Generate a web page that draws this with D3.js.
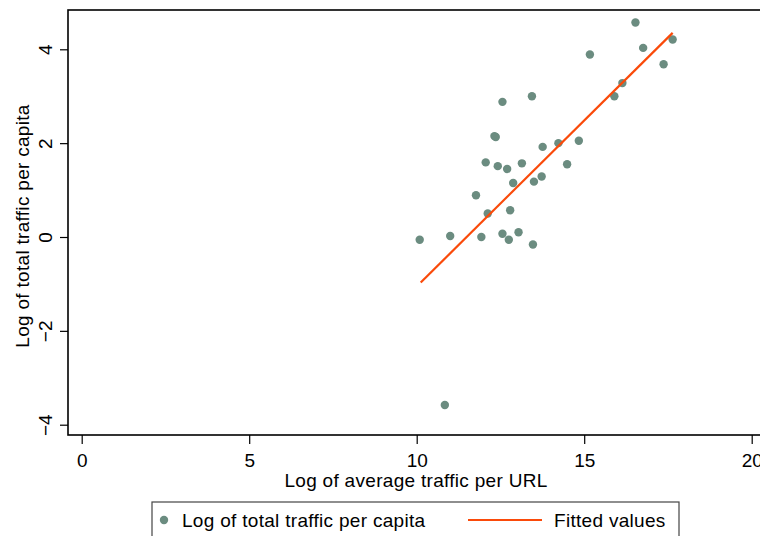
<!DOCTYPE html>
<html>
<head>
<meta charset="utf-8">
<script src="https://cdn.jsdelivr.net/npm/d3@7"></script>
<style>
  html, body { margin: 0; padding: 0; background: #fff; }
  svg { display: block; font-family: Arial, "Liberation Sans", sans-serif; }
</style>
</head>
<body>
<svg id="chart" width="760" height="536"></svg>
<script>
// Data
const avgTrafficPerURL = [16.53, 17.64, 16.76, 15.17, 17.37, 16.14, 15.90, 13.44, 12.56, 12.32, 12.36,
  13.76, 14.23, 14.84, 12.06, 12.42, 12.70, 13.14, 14.49, 12.88, 13.50, 13.73, 11.77, 12.12, 12.79,
  10.09, 11.00, 11.93, 12.56, 12.75, 13.04, 13.47, 10.84];
const totalTrafficPerCapita = [4.57, 4.21, 4.03, 3.89, 3.68, 3.28, 3.00, 3.00, 2.88, 2.15, 2.13,
  1.92, 2.00, 2.05, 1.59, 1.51, 1.45, 1.57, 1.55, 1.15, 1.18, 1.29, 0.89, 0.50, 0.57,
  -0.06, 0.02, 0.00, 0.07, -0.06, 0.10, -0.16, -3.58];
const fittedX = [10.12, 17.64];
const fittedY = [-0.97, 4.35];
const xTicks = [0, 5, 10, 15, 20];
const yTicks = [-4, -2, 0, 2, 4];
const xTitle = "Log of average traffic per URL";
const yTitle = "Log of total traffic per capita";
const legendLabels = ["Log of total traffic per capita", "Fitted values"];

const svg = d3.select("#chart");
const frame = {left: 68, top: 10, right: 766, bottom: 435};
const x = d3.scaleLinear().domain([0, 20]).range([81.7, 751.7]);
const y = d3.scaleLinear().domain([-4, 4]).range([424.7, 49.3]);
const pointColor = "#6b8c80";
const lineColor = "#fa4a0a";
const fontSize = 19;
const spacing = "0.3px";

// Frame
svg.append("rect")
  .attr("x", frame.left).attr("y", frame.top)
  .attr("width", frame.right - frame.left).attr("height", frame.bottom - frame.top)
  .attr("fill", "none").attr("stroke", "#000").attr("stroke-width", 1.6);

// X axis
const xAxis = d3.axisBottom(x).tickValues(xTicks).tickSize(9).tickPadding(5).tickFormat(d3.format("d"));
const gx = svg.append("g").attr("transform", `translate(0,${frame.bottom})`).call(xAxis);
gx.select(".domain").remove();
gx.selectAll(".tick line").attr("stroke", "#000").attr("stroke-width", 1.2);
gx.selectAll(".tick text").attr("font-size", fontSize).attr("font-family", "Arial, 'Liberation Sans', sans-serif")
  .attr("fill", "#000").attr("dy", null).attr("y", 32);

// Y axis
const yAxis = d3.axisLeft(y).tickValues(yTicks).tickSize(8).tickFormat(d3.format("d"));
const gy = svg.append("g").attr("transform", `translate(${frame.left},0)`).call(yAxis);
gy.select(".domain").remove();
gy.selectAll(".tick line").attr("stroke", "#000").attr("stroke-width", 1.2);
gy.selectAll(".tick text")
  .attr("font-size", fontSize).attr("font-family", "Arial, 'Liberation Sans', sans-serif")
  .attr("fill", "#000")
  .attr("x", null).attr("dy", null)
  .attr("text-anchor", "middle")
  .attr("transform", "translate(-16,0) rotate(-90)");

// Axis titles
svg.append("text")
  .attr("x", 416).attr("y", 486.5)
  .attr("text-anchor", "middle").attr("font-size", fontSize).attr("letter-spacing", spacing).attr("fill", "#000")
  .text(xTitle);
svg.append("text")
  .attr("transform", "translate(29,226) rotate(-90)")
  .attr("text-anchor", "middle").attr("font-size", fontSize).attr("letter-spacing", spacing).attr("fill", "#000")
  .text(yTitle);

// Points
svg.append("g").selectAll("circle")
  .data(avgTrafficPerURL.map((v, i) => [v, totalTrafficPerCapita[i]]))
  .join("circle")
  .attr("cx", d => x(d[0])).attr("cy", d => y(d[1]))
  .attr("r", 4.2).attr("fill", pointColor);

// Fitted line
svg.append("path")
  .datum(fittedX.map((v, i) => [v, fittedY[i]]))
  .attr("d", d3.line().x(d => x(d[0])).y(d => y(d[1])))
  .attr("fill", "none").attr("stroke", lineColor).attr("stroke-width", 2.2);

// Legend
const lg = svg.append("g");
lg.append("rect")
  .attr("x", 152).attr("y", 502).attr("width", 527).attr("height", 50)
  .attr("fill", "#fff").attr("stroke", "#444").attr("stroke-width", 1.2);
lg.append("circle").attr("cx", 164).attr("cy", 520).attr("r", 4.2).attr("fill", pointColor);
lg.append("text").attr("x", 182).attr("y", 526.7).attr("font-size", fontSize).attr("letter-spacing", spacing).attr("fill", "#000")
  .text(legendLabels[0]);
lg.append("line").attr("x1", 468).attr("x2", 542).attr("y1", 520).attr("y2", 520)
  .attr("stroke", lineColor).attr("stroke-width", 2.2);
lg.append("text").attr("x", 554).attr("y", 526.7).attr("font-size", fontSize).attr("letter-spacing", spacing).attr("fill", "#000")
  .text(legendLabels[1]);
</script>
</body>
</html>
